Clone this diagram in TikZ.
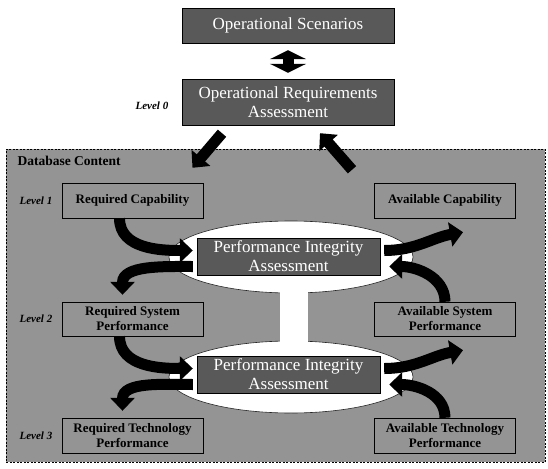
\documentclass[tikz,border=0pt]{standalone}
\usepackage{fontspec}
\setmainfont{Liberation Serif}
\usetikzlibrary{arrows.meta, positioning, shapes.geometric}

\begin{document}
\begin{tikzpicture}[x=1pt,y=-1pt,>=Triangle]
    % styles
    \tikzset{
        darkbox/.style={draw=black, fill=black!65, text=white, align=center, inner sep=1pt, font=\fontsize{17}{19}\selectfont},
        lvlbox/.style={draw=black, fill=black!42, align=center, minimum width=141pt, inner sep=1pt, font=\bfseries\fontsize{13}{15}\selectfont},
        lvltag/.style={font=\bfseries\itshape\fontsize{11}{13}\selectfont},
        pia/.style={ellipse, draw=black!85, line width=0.6pt, fill=white, minimum width=244pt, minimum height=72pt, inner sep=0pt},
        fat/.style={line width=11pt, -{Triangle[length=13pt,width=24pt]}},
    }
    \useasboundingbox (0,0) rectangle (548,468);

    % database frame
    \node[draw=black, line width=0.8pt, dash pattern=on 2pt off 1.5pt, fill=black!42,
          minimum width=539pt, minimum height=313pt, inner sep=0pt, anchor=north west] (db) at (6,149) {};
    \node[font=\bfseries\fontsize{13.5}{15}\selectfont, anchor=north west] (dbtitle)
          at ([xshift=8pt,yshift=-4pt]db.north west) {Database Content};

    % top boxes
    \node[darkbox, minimum width=212pt, minimum height=35pt] (os)  at (288,25.5) {Operational Scenarios};
    \node[darkbox, minimum width=212pt, minimum height=46pt] (ora) at (288,102)  {Operational Requirements\\Assessment};
    \node[lvltag, left=10pt of ora, yshift=-4pt] (t0) {Level 0};

    % assessment ellipses
    \node[pia] (e1) at (291,257) {};
    \node[pia] (e2) at (291,377) {};
    \fill[white] ([xshift=-11pt,yshift=3pt]e1.south) rectangle ([xshift=17pt,yshift=-3pt]e2.north);
    \node[darkbox, minimum width=183pt, minimum height=37pt] (pia1) at (288.5,256.5) {Performance Integrity\\Assessment};
    \node[darkbox, minimum width=183pt, minimum height=37pt] (pia2) at (288.5,374.5) {Performance Integrity\\Assessment};

    % level boxes
    \node[lvlbox, minimum height=35pt] (rc) at (132.5,200.5) {Required Capability};
    \node[lvlbox, minimum height=35pt] (ac) at (445,200.5)   {Available Capability};
    \node[lvlbox, minimum height=34pt] (rs) at (132.5,319)   {Required System\\Performance};
    \node[lvlbox, minimum height=34pt] (as) at (445,319)     {Available System\\Performance};
    \node[lvlbox, minimum height=35pt] (rt) at (132.5,435.5) {Required Technology\\Performance};
    \node[lvlbox, minimum height=35pt] (at) at (445,435.5)   {Available Technology\\Performance};
    \node[lvltag, left=6pt of rc] (t1) {Level 1};
    \node[lvltag, left=6pt of rs] (t2) {Level 2};
    \node[lvltag, left=6pt of rt] (t3) {Level 3};

    % scenario <-> requirements
    \draw[line width=11pt, {Triangle[length=9pt,width=36pt]}-{Triangle[length=9pt,width=36pt]},
          shorten <=7pt, shorten >=6pt] (os) -- (ora);

    % requirements <-> database
    \draw[fat] ([xshift=-66pt,yshift=-8pt]ora.south) -- ([xshift=60pt,yshift=15pt]rc.north);
    \draw[fat] ([xshift=-93pt,yshift=13pt]ac.north) -- ([xshift=32pt,yshift=-8pt]ora.south);

    % level 1 <-> level 2
    \draw[fat] ([xshift=-13pt]rc.south) to[out=-90,in=180] ([xshift=-4pt,yshift=6pt]pia1.west);
    \draw[fat] ([xshift=-4pt,yshift=-10pt]pia1.west) to[out=180,in=90] ([xshift=-10pt,yshift=7pt]rs.north);
    \draw[fat] ([xshift=4pt,yshift=6pt]pia1.east) to[out=0,in=190] ([xshift=18pt,yshift=-14pt]ac.south);
    \draw[fat] (as.north) to[out=90,in=0] ([xshift=9pt,yshift=-10pt]pia1.east);

    % level 2 <-> level 3
    \draw[fat] ([xshift=-13pt]rs.south) to[out=-90,in=180] ([xshift=-4pt,yshift=6pt]pia2.west);
    \draw[fat] ([xshift=-4pt,yshift=-10pt]pia2.west) to[out=180,in=90] ([xshift=-10pt,yshift=7pt]rt.north);
    \draw[fat] ([xshift=4pt,yshift=6pt]pia2.east) to[out=0,in=190] ([xshift=18pt,yshift=-14pt]as.south);
    \draw[fat] (at.north) to[out=90,in=0] ([xshift=9pt,yshift=-10pt]pia2.east);
\end{tikzpicture}
\end{document}
